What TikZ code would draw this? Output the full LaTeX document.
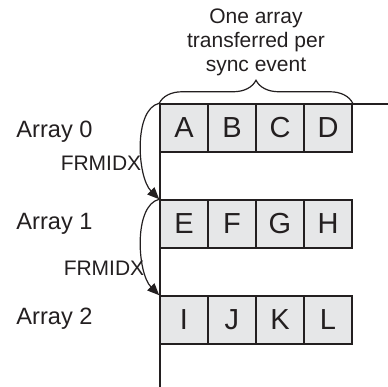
\documentclass[tikz,border=0pt]{standalone}
\usepackage{fontspec}
\setmainfont{Liberation Sans}
\usetikzlibrary{arrows.meta, decorations.pathreplacing}
\definecolor{arInk}{HTML}{231F20}
\definecolor{arCell}{HTML}{E6E7E8}
\tikzset{
  cell/.style={
    draw=arInk, line width=0.75pt, fill=arCell,
    minimum width=24pt, minimum height=24pt, inner sep=0pt,
    text=arInk, font=\fontsize{14.5}{17}\selectfont
  },
  lbl/.style={font=\fontsize{10.5}{12}\selectfont, text=arInk, inner sep=0pt, align=center},
  rowlbl/.style={lbl, font=\fontsize{11.8}{14}\selectfont},
  axis/.style={draw=arInk, line width=1pt},
  hop/.style={-{Triangle[length=6pt, width=5pt]}, line width=0.6pt, draw=arInk},
  span/.style={decorate, decoration={brace, amplitude=11.5pt}, line width=0.6pt, draw=arInk},
}

\begin{document}
\begin{tikzpicture}[x=0.5pt, y=-0.5pt]
  \useasboundingbox (0,0) rectangle (388,387);

  % the three arrays, four cells each
  \foreach \row/\yy/\letters in {0/128/{A,B,C,D}, 1/224/{E,F,G,H}, 2/320/{I,J,K,L}} {
    \foreach \ch [count=\i] in \letters {
      \node[cell] (a\row-\i) at (136+48*\i, \yy) {\ch};
    }
  }

  % time line
  \coordinate (axbot) at (160,387);
  \coordinate (axend) at (388,104);
  \draw[axis] (axbot) |- (axend);

  \node[rowlbl] (arr0) at (54.5,132) {Array 0};
  \node[rowlbl] (arr1) at (54.5,224) {Array 1};
  \node[rowlbl] (arr2) at (54.5,319) {Array 2};

  % frame index jumps
  \draw[hop] (a0-1.north west) .. controls +(-26,6) and +(-22,-22) .. (a1-1.north west);
  \draw[hop] (a1-1.north west) .. controls +(-26,6) and +(-22,-22) .. (a2-1.north west);
  \node[lbl] (idx0) at (101,163) {FRMIDX};
  \node[lbl] (idx1) at (104,268) {FRMIDX};

  \draw[span] (a0-1.north west) -- (a0-4.north east);
  \node[lbl] (head) at (256,42) {One array\\transferred per\\sync event};
\end{tikzpicture}
\end{document}
